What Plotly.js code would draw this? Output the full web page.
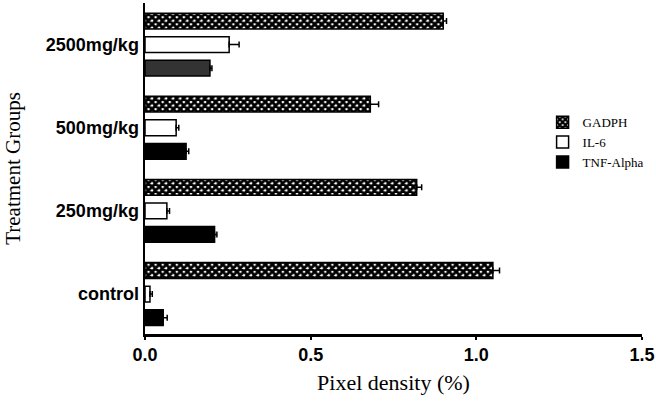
<!DOCTYPE html>
<html>
<head>
<meta charset="utf-8">
<script src="https://cdn.plot.ly/plotly-3.0.1.min.js"></script>
<style>html,body{margin:0;padding:0;background:#fff;}#chart{width:656px;height:406px;}</style>
</head>
<body>
<div id="chart"></div>
<script>
const groups = ["control", "250mg/kg", "500mg/kg", "2500mg/kg"];
const gadph = [1.05, 0.82, 0.68, 0.90];
const gadphErr = [0.02, 0.015, 0.025, 0.01];
const il6 = [0.015, 0.066, 0.094, 0.254];
const il6Err = [0.007, 0.008, 0.008, 0.03];
const tnf = [0.055, 0.21, 0.124, 0.196];
const tnfErr = [0.012, 0.007, 0.008, 0.006];
const xTicks = [0, 0.5, 1.0, 1.5];
const xTickLabels = ["0.0", "0.5", "1.0", "1.5"];

function err(arr){
  return {type:'data', symmetric:false, array:arr, arrayminus:arr.map(()=>0),
          color:'#000', thickness:1.5, width:3};
}
const line = {color:'#000', width:1.5};
const traces = [
  {type:'bar', orientation:'h', name:'TNF-Alpha', y:groups, x:tnf, error_x:err(tnfErr),
   marker:{color:['#000','#000','#000','#333'], line:line}},
  {type:'bar', orientation:'h', name:'IL-6', y:groups, x:il6, error_x:err(il6Err),
   marker:{color:'#fff', line:line}},
  {type:'bar', orientation:'h', name:'GADPH', y:groups, x:gadph, error_x:err(gadphErr),
   marker:{color:'#fff', line:line,
     pattern:{shape:'x', bgcolor:'#fff', fgcolor:'#000', size:5, solidity:0.8}}}
];
const layout = {
  width:656, height:406,
  margin:{l:145, r:14, t:3, b:72},
  paper_bgcolor:'#fff', plot_bgcolor:'#fff',
  barmode:'group', bargap:0.15, bargroupgap:0.33,
  showlegend:true,
  legend:{x:0.8, y:0.685, xanchor:'left', yanchor:'top', traceorder:'reversed',
    font:{family:'Liberation Serif, Times New Roman, serif', size:13, color:'#000'},
    bgcolor:'rgba(0,0,0,0)', itemwidth:30, tracegroupgap:0},
  xaxis:{range:[0,1.5], tickvals:xTicks, ticktext:xTickLabels,
    showgrid:false, zeroline:false, showline:true, linecolor:'#000', linewidth:2.5,
    ticks:'outside', ticklen:3, tickwidth:2, tickcolor:'#000',
    tickfont:{family:'Liberation Sans, Arial, sans-serif', size:18, color:'#000', weight:'bold'},
    title:{text:'Pixel density (%)', standoff:11,
      font:{family:'Liberation Serif, Times New Roman, serif', size:22, color:'#000'}},
    fixedrange:true},
  yaxis:{type:'category', categoryorder:'array', categoryarray:groups, range:[-0.48,3.5],
    showgrid:false, zeroline:false, showline:true, linecolor:'#000', linewidth:2.5,
    ticks:'', ticklen:0,
    tickfont:{family:'Liberation Sans, Arial, sans-serif', size:18, color:'#000', weight:'bold'},
    title:{text:'Treatment Groups', standoff:20,
      font:{family:'Liberation Serif, Times New Roman, serif', size:21, color:'#000'}},
    fixedrange:true}
};
Plotly.newPlot('chart', traces, layout, {displayModeBar:false, staticPlot:true});
</script>
</body>
</html>
